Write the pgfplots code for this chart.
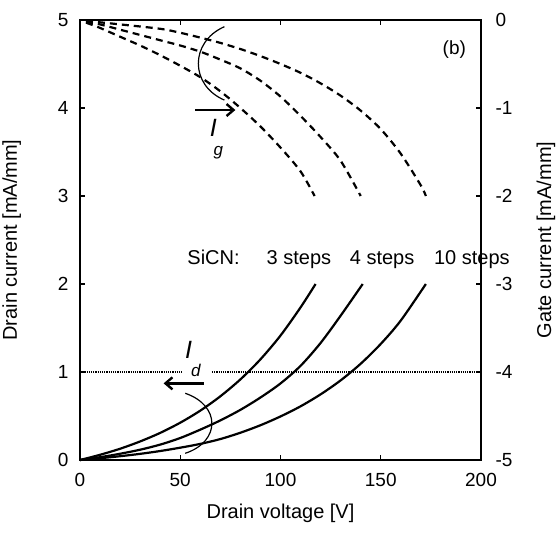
\documentclass[border=0pt]{standalone}
\usepackage{fontspec}
\setmainfont{Liberation Sans}
\usepackage{pgfplots}
\pgfplotsset{compat=1.18}
\usetikzlibrary{arrows.meta}
\begin{document}
\begin{tikzpicture}
\pgfplotsset{
  common/.style={
    scale only axis, width=401pt, height=440pt,
    at={(0,0)}, anchor=south west,
    xmin=0, xmax=200,
    axis line style={line width=1.6pt},
    major tick style={line width=1.3pt, black},
    major tick length=5pt,
    tick align=inside,
    /pgf/number format/assume math mode=true,
    tick label style={font=\fontsize{19}{22}\selectfont},
    label style={font=\fontsize{20}{24}\selectfont},
  }
}
\begin{axis}[common,
  ymin=0, ymax=5,
  xtick={0,50,100,150,200}, ytick={0,1,2,3,4,5},
  xtick pos=both, ytick pos=left,
  xticklabel pos=lower,
  yticklabel style={xshift=-8pt},
  xticklabel style={yshift=-10pt},
  xlabel={Drain voltage [V]},
  ylabel={Drain current [mA/mm]},
  xlabel style={at={(axis description cs:0.5,0)}, anchor=base, yshift=-58pt},
  ylabel style={at={([xshift=-63pt]axis description cs:0,0.5)}, anchor=base},
  clip=false,
]
% drain currents
\addplot[line width=2.2pt, smooth] coordinates {(0,0)(10,0.059)(20,0.128)(30,0.211)(40,0.308)(50,0.424)(60,0.561)(70,0.724)(80,0.916)(90,1.144)(100,1.414)(110,1.734)(117.5,2.0)};
\addplot[line width=2.2pt, smooth] coordinates {(0,0)(10,0.032)(20,0.071)(30,0.117)(40,0.175)(50,0.25)(60,0.345)(70,0.45)(80,0.57)(90,0.71)(100,0.87)(110,1.07)(120,1.33)(130,1.64)(141,2.0)};
\addplot[line width=2.2pt, smooth] coordinates {(0,0)(10,0.02)(20,0.043)(30,0.07)(40,0.102)(50,0.14)(60,0.183)(70,0.238)(80,0.31)(90,0.395)(100,0.495)(110,0.61)(120,0.746)(130,0.905)(140,1.094)(150,1.319)(160,1.585)(172.5,2.0)};
% reference line at 1 mA/mm
\addplot[line width=1.1pt, dash pattern=on 1.2pt off 1pt] coordinates {(0,1)(50.8,1)};
\addplot[line width=1.1pt, dash pattern=on 1.2pt off 1pt] coordinates {(65.8,1)(200,1)};
% annotations
\draw[line width=1.2pt] (axis cs:72,4.924) .. controls (axis cs:54.7,4.75) and (axis cs:54.7,4.26) .. (axis cs:72,4.09);
\draw[line width=2.4pt, -{Straight Barb[length=7pt,width=12pt]}] (axis cs:57.5,3.977) -- (axis cs:77.5,3.977);
\node[font=\fontsize{25}{28}\selectfont\itshape] at (axis cs:66.5,3.77) {I};
\node[font=\fontsize{17}{20}\selectfont\itshape] at (axis cs:69,3.49) {g};
\draw[line width=1.2pt] (axis cs:52.5,0.758) .. controls (axis cs:70.2,0.62) and (axis cs:70.2,0.21) .. (axis cs:52.5,0.076);
\draw[line width=2.4pt, -{Straight Barb[length=7pt,width=12pt]}] (axis cs:61.7,0.871) -- (axis cs:41.7,0.871);
\node[font=\fontsize{25}{28}\selectfont\itshape] at (axis cs:54.2,1.25) {I};
\node[font=\fontsize{17}{20}\selectfont\itshape] at (axis cs:57.8,1.02) {d};
\node[font=\fontsize{19}{22}\selectfont] at (axis cs:186.7,4.665) {(b)};
\node[font=\fontsize{20}{24}\selectfont, anchor=base west, inner sep=0pt] at (axis cs:53.5,2.216) {SiCN:};
\node[font=\fontsize{20}{24}\selectfont, anchor=base west, inner sep=0pt] at (axis cs:93,2.216) {3 steps};
\node[font=\fontsize{20}{24}\selectfont, anchor=base west, inner sep=0pt] at (axis cs:134.5,2.216) {4 steps};
\node[font=\fontsize{20}{24}\selectfont, anchor=base west, inner sep=0pt] at (axis cs:176.5,2.216) {10 steps};
\end{axis}
\begin{axis}[common,
  ymin=-5, ymax=0,
  hide x axis,
  axis y line*=right,
  ytick={-5,-4,-3,-2,-1,0},
  yticklabels={-5,-4,-3,-2,-1,0},
  yticklabel style={xshift=11pt},
  ylabel={Gate current [mA/mm]},
  ylabel style={at={([xshift=70pt]axis description cs:1,0.5)}, anchor=base},
]
\addplot[line width=2.2pt, dash pattern=on 7pt off 5pt, smooth] coordinates {(3,-0.03)(10,-0.09)(20,-0.19)(30,-0.29)(40,-0.40)(50,-0.52)(60,-0.65)(70,-0.81)(80,-1.0)(90,-1.21)(100,-1.45)(110,-1.72)(117,-2.0)};
\addplot[line width=2.2pt, dash pattern=on 7pt off 5pt, smooth] coordinates {(3,-0.02)(10,-0.05)(20,-0.11)(30,-0.17)(40,-0.23)(50,-0.29)(60,-0.36)(70,-0.45)(80,-0.55)(90,-0.69)(100,-0.87)(110,-1.09)(120,-1.33)(130,-1.6)(140,-2.0)};
\addplot[line width=2.2pt, dash pattern=on 7pt off 5pt, smooth] coordinates {(3,-0.01)(20,-0.05)(40,-0.1)(50,-0.145)(60,-0.2)(70,-0.26)(80,-0.33)(90,-0.41)(100,-0.5)(110,-0.6)(120,-0.72)(130,-0.86)(140,-1.03)(150,-1.24)(160,-1.52)(170,-1.88)(172.5,-2.0)};
\end{axis}
\pgfresetboundingbox
\path (-80pt,-75pt) rectangle (477pt,460pt);
\end{tikzpicture}
\end{document}
